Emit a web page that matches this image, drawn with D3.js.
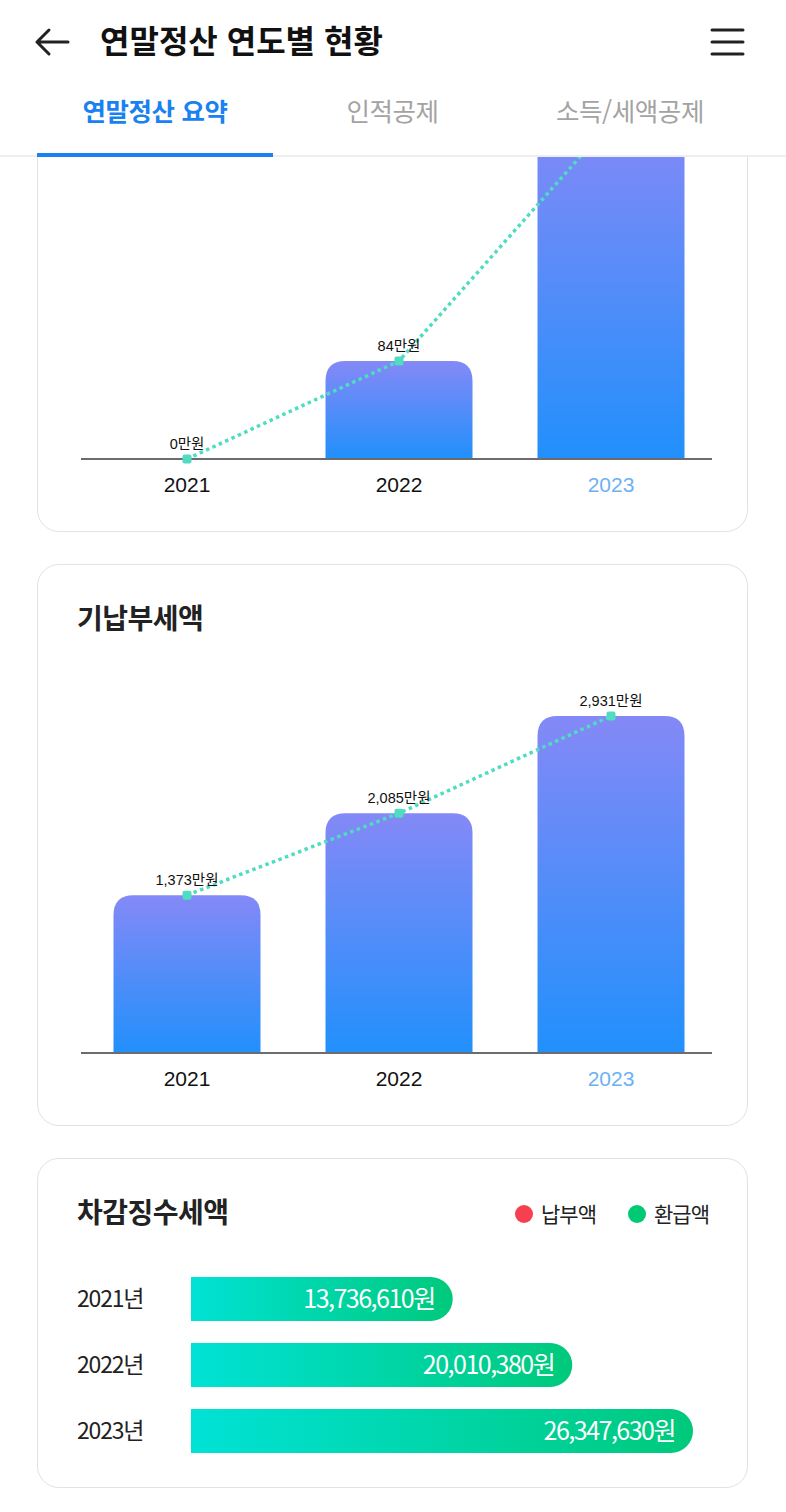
<!DOCTYPE html>
<html lang="ko">
<head>
<meta charset="utf-8">
<script src="https://cdn.jsdelivr.net/npm/d3@7"></script>
<style>
  html, body { margin: 0; padding: 0; background: #fff; }
  body { width: 786px; height: 1512px; position: relative; overflow: hidden;
         font-family: "Noto Sans CJK KR", "Noto Sans", sans-serif; }
  #header { position: absolute; left: 0; top: 0; width: 786px; height: 157px;
            background: #fff; z-index: 5; }
  #content { position: absolute; left: 0; top: 157px; width: 786px; height: 1355px;
             overflow: hidden; }
  #inner { position: relative; width: 786px; height: 1700px; }
  .card { position: absolute; left: 37px; width: 709px; background: #fff;
          border: 1.5px solid #e2e2e2; border-radius: 22px; }
  .card svg { position: absolute; left: 0; top: 0; }
</style>
</head>
<body>
<div id="header"></div>
<div id="content">
  <div id="inner">
    <div id="card_final" class="card" style="top:0px;height:560px;"></div>
    <div id="card_paid" class="card" style="top:594px;height:560px;"></div>
    <div id="card_diff" class="card" style="top:1188px;height:328px;"></div>
  </div>
</div>

<script>
// tab labels and chart data
var tabs = ['연말정산 요약', '인적공제', '소득/세액공제'];
var years = ['2021', '2022', '2023'];
var finalTax = [0, 84, 289];          // 만원 (2023 value scrolled out of view, estimated)
var paidTax = [1373, 2085, 2931];     // 만원
var diffYears = ['2021년', '2022년', '2023년'];
var diffTax = [13736610, 20010380, 26347630];  // 원
var legendLabels = ['납부액', '환급액'];

var latin = '"Liberation Sans", "Noto Sans CJK KR", sans-serif';
var scrollY = 187;   // how far the content is scrolled under the header

// ---- header ----
var header = d3.select('#header').append('svg')
  .attr('width', 786).attr('height', 157);

header.append('path')
  .attr('d', 'M37,42 H68 M49,30 L37,42 L49,54')
  .attr('fill', 'none').attr('stroke', '#222').attr('stroke-width', 3)
  .attr('stroke-linecap', 'round').attr('stroke-linejoin', 'round');

header.append('text')
  .attr('x', 100).attr('y', 53)
  .attr('font-size', 32).attr('font-weight', 700).attr('fill', '#111')
  .text('연말정산 연도별 현황');

header.selectAll('line.menu').data([30, 42, 54]).enter().append('line')
  .attr('class', 'menu')
  .attr('x1', 712).attr('x2', 743).attr('y1', Object).attr('y2', Object)
  .attr('stroke', '#222').attr('stroke-width', 3).attr('stroke-linecap', 'round');

var tabX = d3.scalePoint().domain(tabs).range([155, 630]);
header.selectAll('text.tab').data(tabs).enter().append('text')
  .attr('class', 'tab')
  .attr('x', function(d) { return tabX(d); })
  .attr('y', 121)
  .attr('text-anchor', 'middle')
  .attr('font-size', 25.5)
  .attr('font-weight', function(d, i) { return i == 0 ? 700 : 400; })
  .attr('fill', function(d, i) { return i == 0 ? '#1a82f0' : '#a3a3a3'; })
  .attr('letter-spacing', -0.4)
  .text(function(d) { return d; });

header.append('rect').attr('x', 0).attr('y', 155).attr('width', 786).attr('height', 2).attr('fill', '#eeeeee');
header.append('rect').attr('x', 37).attr('y', 153).attr('width', 236).attr('height', 4).attr('fill', '#1a82f0');

// ---- vertical bar + line chart ----
// cardTop is the card's top inside the scrolled content
function barLineChart(id, title, values, cardTop) {
  var svg = d3.select(id).append('svg').attr('width', 709).attr('height', 560);

  var grad = svg.append('defs').append('linearGradient')
    .attr('id', id.slice(1) + '_grad')
    .attr('x1', 0).attr('y1', 0).attr('x2', 0).attr('y2', 1);
  grad.append('stop').attr('offset', '0%').attr('stop-color', '#8489f6');
  grad.append('stop').attr('offset', '100%').attr('stop-color', '#2190fc');

  if (title) {
    svg.append('text').attr('x', 39).attr('y', 64)
      .attr('font-size', 28).attr('font-weight', 700).attr('fill', '#222')
      .attr('letter-spacing', -0.5)
      .text(title);
  }

  var base = 488;
  var x = d3.scalePoint().domain(years).range([149, 573]);
  var y = d3.scaleLinear().domain([0, d3.max(values)]).range([base, base - 337]);
  var bw = 147, r = 20;

  svg.selectAll('path.bar').data(values).enter().append('path')
    .attr('class', 'bar')
    .attr('fill', 'url(' + id + '_grad)')
    .attr('d', function(d, i) {
      var x0 = x(years[i]) - bw / 2, x1 = x0 + bw, top = y(d);
      var h = base - top;
      if (h <= 0) return '';
      var rr = Math.min(r, h);
      return 'M' + x0 + ',' + base + 'V' + (top + rr) +
        'Q' + x0 + ',' + top + ' ' + (x0 + rr) + ',' + top +
        'H' + (x1 - rr) + 'Q' + x1 + ',' + top + ' ' + x1 + ',' + (top + rr) +
        'V' + base + 'Z';
    });

  svg.append('line')
    .attr('x1', 43).attr('x2', 674).attr('y1', base).attr('y2', base)
    .attr('stroke', '#6b6b70').attr('stroke-width', 2);

  var line = d3.line()
    .x(function(d, i) { return x(years[i]); })
    .y(function(d) { return y(d); });

  svg.append('path').datum(values)
    .attr('d', line)
    .attr('fill', 'none')
    .attr('stroke', '#4fdcc0').attr('stroke-width', 3.5)
    .attr('stroke-dasharray', '3.5,3.5');

  svg.selectAll('rect.pt').data(values).enter().append('rect')
    .attr('class', 'pt')
    .attr('x', function(d, i) { return x(years[i]) - 4.5; })
    .attr('y', function(d) { return y(d) - 4.5; })
    .attr('width', 9).attr('height', 9).attr('rx', 2)
    .attr('fill', '#4fdcc0');

  // labels scrolled under the header are not drawn
  var labels = values.map(function(d, i) { return { v: d, year: years[i] }; })
    .filter(function(d) { return cardTop + y(d.v) - 26 >= scrollY; });

  svg.selectAll('text.val').data(labels).enter().append('text')
    .attr('class', 'val')
    .attr('x', function(d) { return x(d.year); })
    .attr('y', function(d) { return y(d.v) - 10; })
    .attr('text-anchor', 'middle')
    .attr('font-family', latin)
    .attr('font-size', 14.5).attr('fill', '#111')
    .text(function(d) { return d3.format(',')(d.v) + '만원'; });

  svg.selectAll('text.year').data(years).enter().append('text')
    .attr('class', 'year')
    .attr('x', function(d) { return x(d); })
    .attr('y', 521)
    .attr('text-anchor', 'middle')
    .attr('font-family', latin)
    .attr('font-size', 21)
    .attr('fill', function(d, i) { return i == years.length - 1 ? '#6cb2f2' : '#111'; })
    .text(function(d) { return d; });
}

barLineChart('#card_final', null, finalTax, 0);
barLineChart('#card_paid', '기납부세액', paidTax, 594);

// ---- horizontal bars ----
var svg3 = d3.select('#card_diff').append('svg').attr('width', 709).attr('height', 328);

var hgrad = svg3.append('defs').append('linearGradient')
  .attr('id', 'hgrad').attr('gradientUnits', 'objectBoundingBox')
  .attr('x1', 0).attr('y1', 0).attr('x2', 1).attr('y2', 0);
hgrad.append('stop').attr('offset', '0%').attr('stop-color', '#00e2d6');
hgrad.append('stop').attr('offset', '100%').attr('stop-color', '#00c97b');

svg3.append('text').attr('x', 39).attr('y', 64)
  .attr('font-size', 28).attr('font-weight', 700).attr('fill', '#222')
  .attr('letter-spacing', -0.5)
  .text('차감징수세액');

var legend = svg3.selectAll('g.legend').data(legendLabels).enter().append('g')
  .attr('class', 'legend')
  .attr('transform', function(d, i) { return 'translate(' + (486 + i * 113) + ',55)'; });
legend.append('circle').attr('r', 9)
  .attr('fill', function(d, i) { return i == 0 ? '#f7404f' : '#00c974'; });
legend.append('text').attr('x', 17).attr('y', 8)
  .attr('font-size', 21).attr('fill', '#222').attr('letter-spacing', -1)
  .text(function(d) { return d; });

var hx = d3.scaleLinear().domain([0, d3.max(diffTax)]).range([0, 502]);
var hy = d3.scaleBand().domain(diffYears).range([118, 294]).paddingInner(1 / 3);
var x0 = 153;

svg3.selectAll('path.hbar').data(diffTax).enter().append('path')
  .attr('class', 'hbar')
  .attr('fill', 'url(#hgrad)')
  .attr('d', function(d, i) {
    var t = hy(diffYears[i]), h = hy.bandwidth(), w = hx(d), rr = h / 2;
    return 'M' + x0 + ',' + t + 'H' + (x0 + w - rr) +
      'A' + rr + ',' + rr + ' 0 0 1 ' + (x0 + w - rr) + ',' + (t + h) +
      'H' + x0 + 'Z';
  });

svg3.selectAll('text.hval').data(diffTax).enter().append('text')
  .attr('class', 'hval')
  .attr('x', function(d) { return x0 + hx(d) - 18; })
  .attr('y', function(d, i) { return hy(diffYears[i]) + hy.bandwidth() / 2 + 9; })
  .attr('text-anchor', 'end')
  .attr('font-size', 25).attr('fill', '#fff').attr('letter-spacing', -1.5)
  .text(function(d) { return d3.format(',')(d) + '원'; });

svg3.selectAll('text.hyear').data(diffYears).enter().append('text')
  .attr('class', 'hyear')
  .attr('x', 39)
  .attr('y', function(d) { return hy(d) + hy.bandwidth() / 2 + 8; })
  .attr('font-size', 23).attr('fill', '#222').attr('letter-spacing', -1.2)
  .text(function(d) { return d; });

// the page is scrolled so the first card's top is hidden under the header
document.getElementById('content').scrollTop = scrollY;
</script>
</body>
</html>
